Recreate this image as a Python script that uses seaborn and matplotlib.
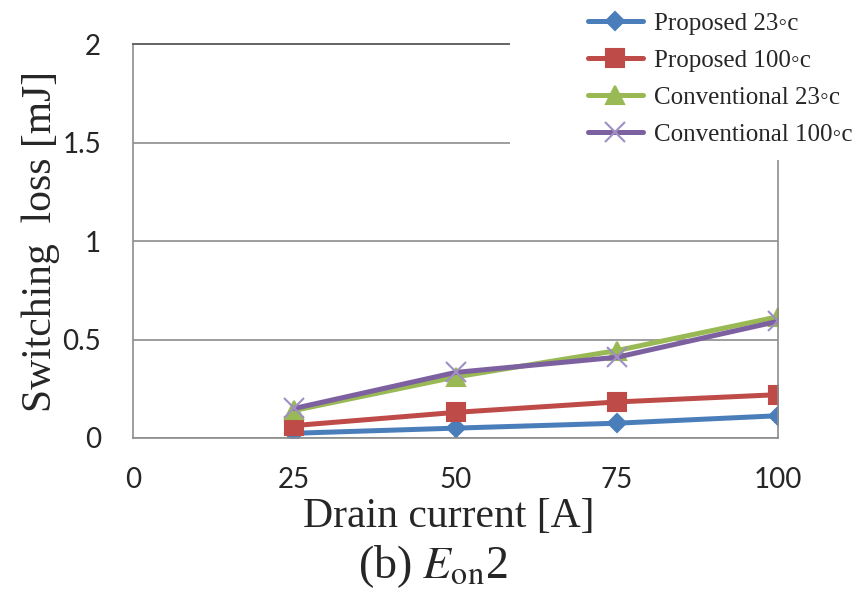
import matplotlib
matplotlib.use("Agg")
import matplotlib.pyplot as plt
import matplotlib.patches as mpatches
import seaborn as sns
import pandas as pd

# data
drain_current = [25, 50, 75, 100]
proposed_23 = [0.024, 0.05, 0.075, 0.113]
proposed_100 = [0.063, 0.13, 0.183, 0.22]
conventional_23 = [0.14, 0.31, 0.444, 0.616]
conventional_100 = [0.15, 0.333, 0.41, 0.593]
series_names = ["Proposed 23\u25e6c", "Proposed 100\u25e6c",
                "Conventional 23\u25e6c", "Conventional 100\u25e6c"]
x_ticks = [0, 25, 50, 75, 100]
y_ticks = [0, 0.5, 1, 1.5, 2]
y_tick_labels = ["0", "0.5", "1", "1.5", "2"]

series_vals = [proposed_23, proposed_100, conventional_23, conventional_100]
colors = ["#4a7ebb", "#be4b48", "#98b954", "#7d60a0"]
markers = ["D", "s", "^", "x"]
msizes = [9, 13, 13, 14]

sns.set_style("white")
plt.rcParams["font.family"] = ["Liberation Serif", "DejaVu Serif"]
plt.rcParams["mathtext.fontset"] = "stix"

fig = plt.figure(figsize=(8.58, 5.98), dpi=100)
ax = fig.add_axes([0.155, 0.2676, 0.752, 0.6584])

for name, vals, c, m, ms in zip(series_names, series_vals, colors, markers, msizes):
    edge = "#a08fc4" if m == "x" else c
    sns.lineplot(x=drain_current, y=vals, color=c, marker=m, markersize=ms,
                 markeredgecolor=edge, markeredgewidth=1.5, linewidth=3.6,
                 label=name, ax=ax)

ax.set_xlim(0, 100)
ax.set_ylim(0, 2)
ax.set_xticks(x_ticks)
ax.set_yticks(y_ticks)
ax.set_yticklabels(y_tick_labels)
ax.grid(axis="y", color="#8c8c8c", linewidth=1.2)
ax.set_axisbelow(True)
for s in ["left", "bottom", "right"]:
    ax.spines[s].set_color("#8c8c8c")
    ax.spines[s].set_linewidth(1.2)
ax.spines["top"].set_color("#666666")
ax.spines["top"].set_linewidth(1.4)
ax.tick_params(axis="both", direction="out", length=8, width=1.2, color="#8c8c8c",
               labelsize=20)
ax.tick_params(axis="x", pad=13)
ax.tick_params(axis="y", pad=15)
for lab in ax.get_xticklabels() + ax.get_yticklabels():
    lab.set_family(["Lato", "DejaVu Sans"])

ax.set_xlabel("Drain current [A]", fontsize=30)
ax.xaxis.set_label_coords(0.49, -0.20)
ax.xaxis.label.set_va("center")
ax.set_ylabel("Switching  loss [mJ]", fontsize=30, labelpad=2)

# white box behind legend hides gridlines / border in the corner
cover = mpatches.Rectangle((510 / 858, 1 - 160 / 598), 1, 1, transform=fig.transFigure,
                           facecolor="white", edgecolor="none", zorder=4, clip_on=False)
ax.add_patch(cover)

handles, labels = ax.get_legend_handles_labels()
leg = ax.legend(handles, labels, loc="upper left", bbox_to_anchor=(570 / 858, 1.008),
                bbox_transform=fig.transFigure, frameon=False, fontsize=18,
                handlelength=2.2, handletextpad=0.45, labelspacing=0.58, borderpad=0.2)
leg.set_zorder(6)

fig.text(433 / 858, 1 - 567 / 598, "(b) $E_{\\mathrm{on}}$2", fontsize=33,
         ha="center", va="center")

fig.savefig("out.png", dpi=100)
